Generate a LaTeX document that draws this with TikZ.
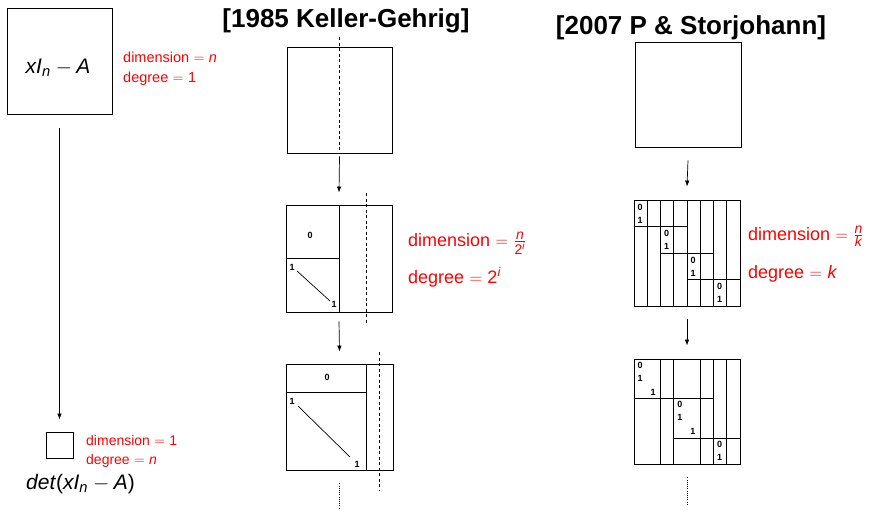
\documentclass[tikz,border=0pt]{standalone}
\usepackage{fontspec}
\setmainfont{Liberation Sans}
\usetikzlibrary{arrows.meta}
\newcommand{\fs}[1]{\fontsize{#1}{#1}\selectfont}
\newcommand{\eqsign}{\hspace{0.3em}$=$\hspace{0.3em}}
\newcommand{\minisign}{\hspace{0.25em}$-$\hspace{0.2em}}
\newcommand{\smallfrac}[3]{$\frac{\hbox{\fs{#1}#2}}{\hbox{\fs{#1}#3}}$}
\begin{document}
\begin{tikzpicture}[x=1pt,y=-1pt,
  mat/.style={draw,line width=0.9pt,inner sep=0pt},
  arr/.style={-{Latex[length=6pt,width=4.5pt]},line width=0.7pt},
  cut/.style={dash pattern=on 3pt off 2.5pt,line width=0.7pt},
  more/.style={dash pattern=on 1pt off 1.2pt,line width=0.8pt},
  note/.style={text=red,anchor=base west,inner sep=0pt},
  entry/.style={font=\bfseries\fs{9},inner sep=0pt},
  title/.style={font=\bfseries\fs{26},anchor=base,inner sep=0pt},
  inner/.style={line width=0.7pt}]
\useasboundingbox (0,0) rectangle (874,509);

% ---- left column: the characteristic matrix and its determinant
\node[mat,minimum width=105pt,minimum height=106pt] (A) at (59.5,61) {};
\node[anchor=base,inner sep=0pt,font=\fs{21}] (Atext) at (58,73)
  {\textit{xI}\textsubscript{\textit{n}}\minisign\textit{A}};
\node[note,font=\fs{14.5}] (Adim) at (123,62) {dimension\eqsign\textit{n}};
\node[note,font=\fs{14.5}] (Adeg) at (123,82) {degree\eqsign 1};

\node[mat,minimum width=27pt,minimum height=26pt] (D) at (59.5,445) {};
\node[note,font=\fs{14}] (Ddim) at (86,445) {dimension\eqsign 1};
\node[note,font=\fs{14}] (Ddeg) at (86,464) {degree\eqsign\textit{n}};
\node[anchor=base,inner sep=0pt,font=\fs{21}] (Dtext) at (80.5,489)
  {\textit{det}(\textit{xI}\textsubscript{\textit{n}}\minisign\textit{A})};
\draw[arr] ([yshift=-14pt]A.south) -- ([yshift=12pt]D.north);

% ---- middle column: Keller-Gehrig
\node[title] (KGt) at (346,27) {[1985 Keller-Gehrig]};
\node[mat,minimum width=105pt,minimum height=106pt] (KG1) at (339.5,100) {};
\node[mat,minimum width=106pt,minimum height=107pt] (KG2) at (339,258.5) {};
\node[mat,minimum width=107pt,minimum height=106pt] (KG3) at (339.5,417) {};

\draw[cut] (339,37) -- (339,153);
\draw[arr] ([yshift=-3pt]KG1.south) -- ([yshift=12pt]KG2.north);

\draw[inner] (339,205) -- (339,312);
\draw[inner] (286,258) -- (339,258);
\draw[inner] (297,271) -- (330,301);
\node[entry] (k20) at (310,235) {0};
\node[entry] (k21) at (292,267) {1};
\node[entry] (k22) at (334,304) {1};
\draw[cut] (366,193) -- (366,325);
\node[note,font=\fs{18}] (KGdim) at (408,246)
  {dimension\eqsign\smallfrac{14}{\textit{n}}{2\textsuperscript{\textit{i}}}};
\node[note,font=\fs{18}] (KGdeg) at (408,283)
  {degree\eqsign 2\textsuperscript{\textit{i}}};

\draw[arr] ([yshift=-9pt]KG2.south) -- ([yshift=12pt]KG3.north);

\draw[inner] (366,364) -- (366,470);
\draw[inner] (286,392) -- (366,392);
\draw[inner] (298,406) -- (350,457);
\node[entry] (k30) at (327,377) {0};
\node[entry] (k31) at (292,401) {1};
\node[entry] (k32) at (357,464) {1};
\draw[cut] (379,352) -- (379,490);
\draw[more] ([yshift=-13pt]KG3.south) -- ++(0,25);

% ---- right column: Storjohann
\node[title] (PSt) at (691,34) {[2007 P \& Storjohann]};
\node[mat,minimum width=106pt,minimum height=105pt] (PS1) at (688,94.5) {};
\node[mat,minimum width=106pt,minimum height=106pt] (PS2) at (687,253) {};
\node[mat,minimum width=106pt,minimum height=105pt] (PS3) at (687,411.5) {};
\draw[arr] ([yshift=-13pt]PS1.south) -- ([yshift=13pt]PS2.north);
\draw[arr] ([yshift=-13pt]PS2.south) -- ([yshift=13pt]PS3.north);

% second matrix: eight block columns, four shifted blocks
\foreach \k in {1,...,7}
  \draw[inner] (634+13.25*\k,200) -- (634+13.25*\k,306);
\foreach \j in {1,2,3}
  \draw[inner] (634+26.5*\j-26.5,200+26.5*\j) -- (634+26.5*\j+26.5,200+26.5*\j);
\foreach \j in {0,1,2,3} {
  \node[entry] at (640+26.5*\j,207+26.5*\j) {0};
  \node[entry] at (640+26.5*\j,220+26.5*\j) {1};
}
\node[note,font=\fs{18}] (PSdim) at (748,240)
  {dimension\eqsign\smallfrac{14}{\textit{n}}{\textit{k}}};
\node[note,font=\fs{18}] (PSdeg) at (748,278) {degree\eqsign\textit{k}};

% third matrix: three blocks of width three
\foreach \k in {2,3,5,6,7}
  \draw[inner] (634+13.25*\k,359) -- (634+13.25*\k,464);
\draw[inner] (634,398.75) -- (713.5,398.75);
\draw[inner] (673.75,438.5) -- (740,438.5);
\foreach \j in {0,1} {
  \node[entry] at (640+39.75*\j,365+39.75*\j) {0};
  \node[entry] at (640+39.75*\j,378+39.75*\j) {1};
  \node[entry] at (653+39.75*\j,392+39.75*\j) {1};
}
\node[entry] (p30) at (719.5,444.5) {0};
\node[entry] (p31) at (719.5,457.5) {1};
\draw[more] ([yshift=-13pt]PS3.south) -- ++(0,27);
\end{tikzpicture}
\end{document}
